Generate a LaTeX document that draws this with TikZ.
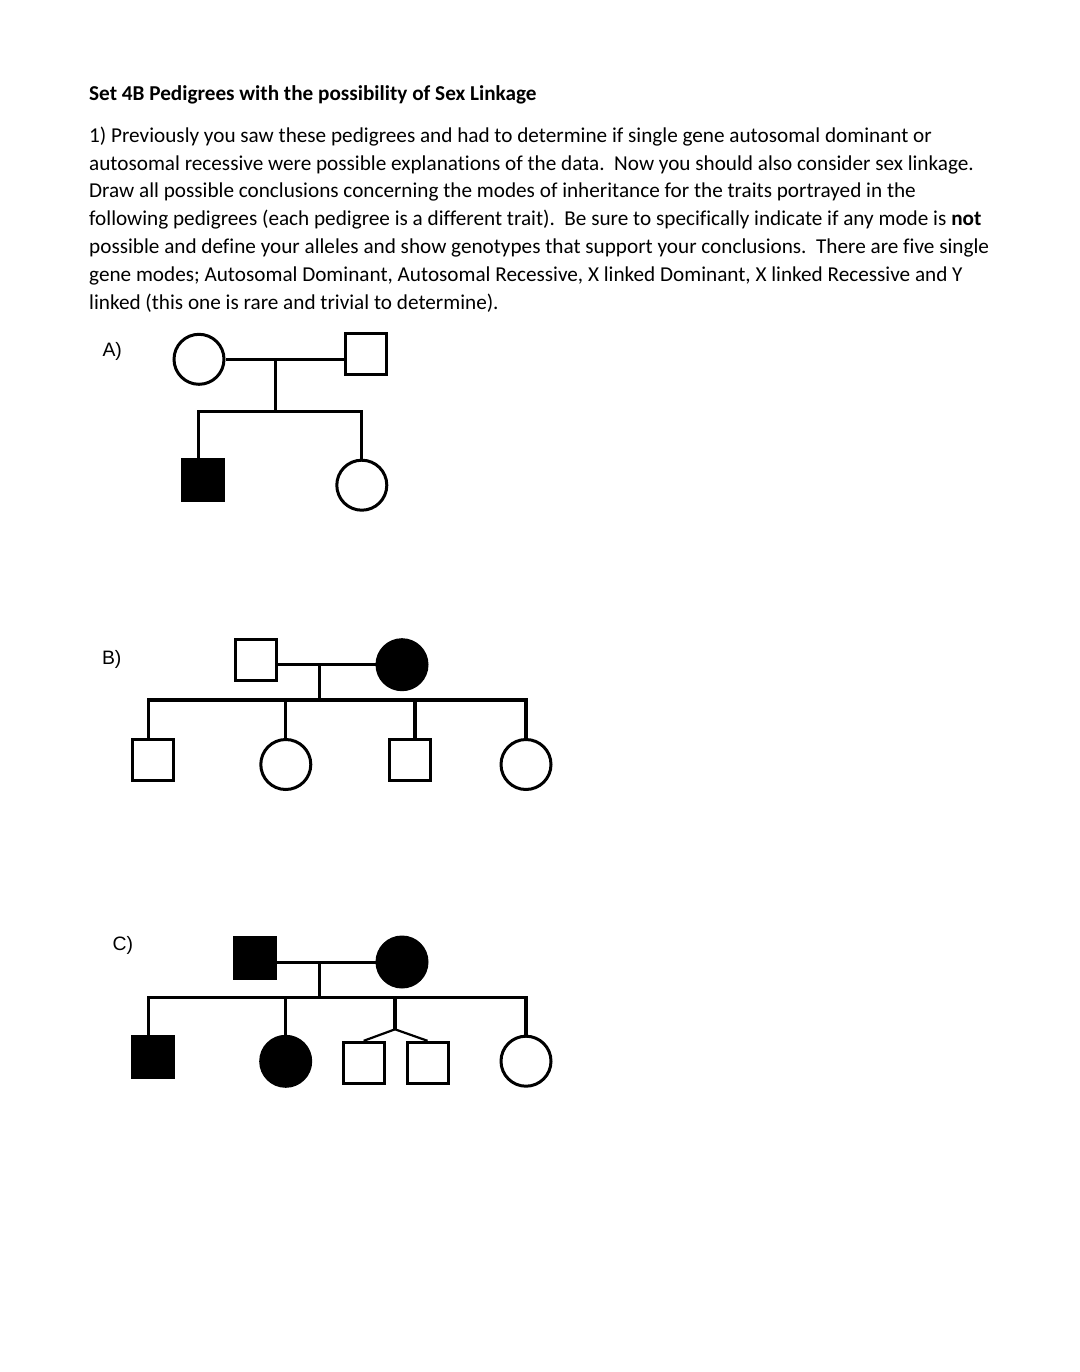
\documentclass[tikz,border=0pt]{standalone}
\usepackage{fontspec}
\setmainfont{Carlito}[Ligatures=NoCommon]
\newfontfamily\labelfont{Liberation Sans}
\begin{document}
\begin{tikzpicture}[x=1pt,y=-1pt,
  txt/.style={anchor=base west,inner sep=0pt,font=\fontsize{21.2}{27.8}\selectfont},
  lbl/.style={anchor=base west,inner sep=0pt,font=\labelfont\fontsize{19.4}{22}\selectfont},
  male/.style={rectangle,draw,line width=3pt,minimum size=41pt,inner sep=0pt,fill=white},
  female/.style={circle,draw,line width=3pt,minimum size=50pt,inner sep=0pt,fill=white},
  aff/.style={fill=black},
  link/.style={line width=3.2pt},
  twin/.style={line width=2.2pt}]
\useasboundingbox (0,0) rectangle (1079,1372);
\fill[white] (0,0) rectangle (1079,1372);
% text
\node[txt,font=\bfseries\fontsize{21.2}{27.8}\selectfont] (title) at (89,100.7) {Set 4B Pedigrees with the possibility of Sex Linkage};
\node[txt] (l1) at (89,142.3) {1) Previously you saw these pedigrees and had to determine if single gene autosomal dominant or};
\node[txt] (l2) at (89,170.1) {autosomal recessive were possible explanations of the data.~~Now you should also consider sex linkage.};
\node[txt] (l3) at (89,198.0) {Draw all possible conclusions concerning the modes of inheritance for the traits portrayed in the};
\node[txt] (l4) at (89,225.8) {following pedigrees (each pedigree is a different trait).~~Be sure to specifically indicate if any mode is \textbf{not}};
\node[txt] (l5) at (89,253.6) {possible and define your alleles and show genotypes that support your conclusions.~~There are five single};
\node[txt] (l6) at (89,281.5) {gene modes; Autosomal Dominant, Autosomal Recessive, X linked Dominant, X linked Recessive and Y};
\node[txt] (l7) at (89,309.3) {linked (this one is rare and trivial to determine).};
% labels
\node[lbl] (labA) at (102.3,356.8) {A)};
\node[lbl] (labB) at (101.8,664) {B)};
\node[lbl] (labC) at (112.3,950) {C)};

% ---------- Pedigree A ----------
\node[female] (aM) at (199,359.3) {};
\node[male] (aF) at (366.3,354.2) {};
\node[male,aff] (aC1) at (203.3,480.3) {};
\node[female] (aC2) at (361.8,485.2) {};
\coordinate (aMid) at (275.7,359.3);
\coordinate (aSib) at (275.7,411.7);
\coordinate (aL) at (198.3,411.7);
\coordinate (aR) at (361.8,411.7);
\draw[link] (aM.east) -- (aM.east -| aF.west);
\draw[link] (aMid) -- (aSib);
\draw[link,line cap=rect] (aL) -- (aR);
\draw[link] (aL) -- (aL |- aC1.north);
\draw[link] (aR) -- (aC2.north);

% ---------- Pedigree B ----------
\node[male] (bF) at (255.7,660) {};
\node[female,aff] (bM) at (402,664.7) {};
\coordinate (bMid) at (319.3,664.3);
\coordinate (bSib) at (319.3,700);
\coordinate (bL) at (148.3,700);
\coordinate (bR) at (526,700);
\node[male] (bC1) at (152.5,759.7) {};
\node[female] (bC2) at (285.8,764.5) {};
\node[male] (bC3) at (410,759.7) {};
\node[female] (bC4) at (526,764.5) {};
\coordinate (bD3) at (415,700);
\draw[link] (bF.east |- bMid) -- (bM.west |- bMid);
\draw[link] (bMid) -- (bSib);
\draw[link,line cap=rect] (bL) -- (bR);
\draw[link] (bL) -- (bL |- bC1.north);
\draw[link] (bC2.north |- bL) -- (bC2.north);
\draw[link] (bD3) -- (bD3 |- bC3.north);
\draw[link] (bR) -- (bC4.north);

% ---------- Pedigree C ----------
\node[male,aff] (cF) at (255.2,957.5) {};
\node[female,aff] (cM) at (402,962) {};
\coordinate (cMid) at (319.3,962.3);
\coordinate (cSib) at (319.3,997.7);
\coordinate (cL) at (148.3,997.7);
\coordinate (cR) at (526,997.7);
\node[male,aff] (cC1) at (152.5,1056.7) {};
\node[female,aff] (cC2) at (285.7,1061.3) {};
\node[male] (cT1) at (363.7,1062.8) {};
\node[male] (cT2) at (427.5,1062.8) {};
\node[female] (cC4) at (526,1061.2) {};
\coordinate (cTw) at (395,997.7);
\coordinate (cTj) at (395,1029.3);
\draw[link] (cF.east |- cMid) -- (cM.west |- cMid);
\draw[link] (cMid) -- (cSib);
\draw[link,line cap=rect] (cL) -- (cR);
\draw[link] (cL) -- (cL |- cC1.north);
\draw[link] (cC2.north |- cL) -- (cC2.north);
\draw[link] (cTw) -- (cTj);
\draw[twin] (cTj) -- (cT1.north);
\draw[twin] (cTj) -- (cT2.north);
\draw[link] (cR) -- (cC4.north);
\end{tikzpicture}
\end{document}
